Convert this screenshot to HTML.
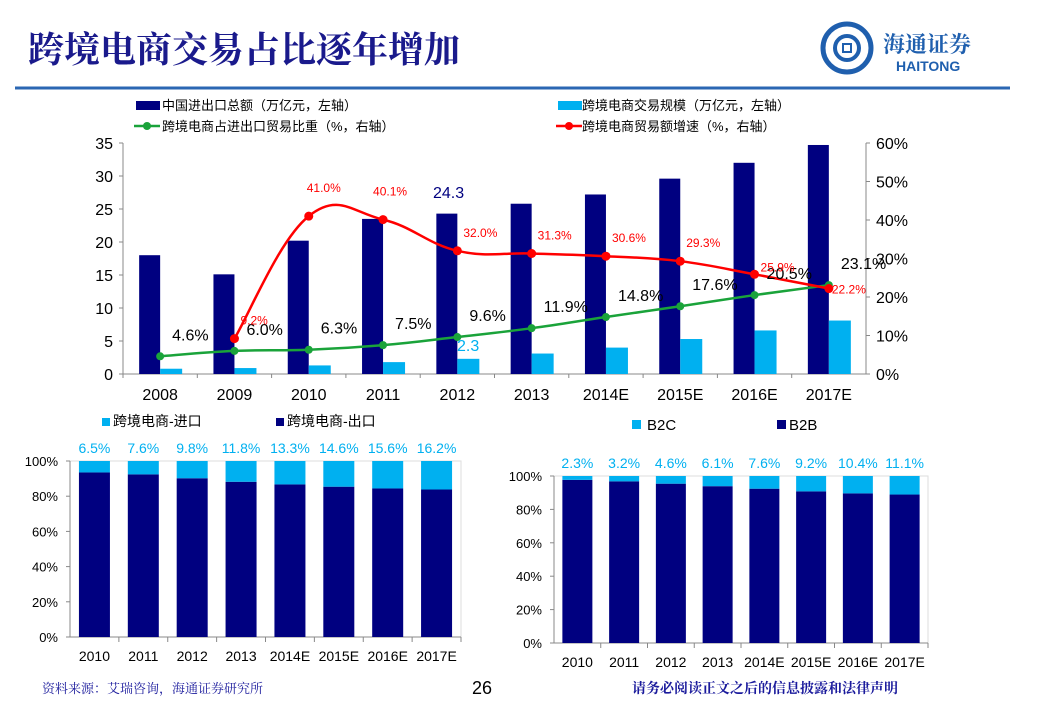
<!DOCTYPE html>
<html><head><meta charset="utf-8">
<style>
html,body{margin:0;padding:0;background:#fff;width:1040px;height:720px;overflow:hidden;font-family:"Liberation Sans","Noto Sans CJK SC",sans-serif}
svg{position:absolute;left:0;top:0}
</style></head>
<body>
<svg id="s" width="1040" height="720">
<text x="28" y="62" font-family="'Liberation Serif','Noto Serif CJK SC',serif" font-size="36" font-weight="bold" fill="#1a1a8c">跨境电商交易占比逐年增加</text>
<line x1="15" y1="88" x2="1010" y2="88" stroke="#2b67b3" stroke-width="3"/>
<g>
<circle cx="847" cy="48" r="24" fill="none" stroke="#1f5fae" stroke-width="5"/>
<circle cx="847" cy="48" r="12" fill="none" stroke="#1f5fae" stroke-width="4"/>
<rect x="843" y="44" width="8" height="8" fill="#fff" stroke="#1f5fae" stroke-width="2"/>
<text x="883" y="52" font-family="'Noto Serif CJK SC',serif" font-size="22" font-weight="bold" fill="#1f5fae">海通证券</text>
<text x="896" y="71" font-size="14" font-weight="bold" fill="#1f5fae">HAITONG</text>
</g>
<text x="42" y="693" font-family="'Noto Serif CJK SC',serif" font-size="13" fill="#1a1a9c">资料来源：艾瑞咨询，海通证券研究所</text>
<text x="472" y="694" font-size="18" fill="#000">26</text>
<text x="632" y="693" font-family="'Noto Serif CJK SC',serif" font-size="14" font-weight="bold" fill="#1a1a9c">请务必阅读正文之后的信息披露和法律声明</text>
</svg>
<script>
const years=["2008","2009","2010","2011","2012","2013","2014E","2015E","2016E","2017E"];
const totalTrade=[18,15.1,20.2,23.5,24.3,25.8,27.2,29.6,32,34.7];
const ecomScale=[0.8,0.9,1.3,1.8,2.3,3.1,4.0,5.3,6.6,8.1];
const sharePct=[4.6,6.0,6.3,7.5,9.6,11.9,14.8,17.6,20.5,23.1];
const growthPct=[null,9.2,41.0,40.1,32.0,31.3,30.6,29.3,25.9,22.2];
const leftTicks=[0,5,10,15,20,25,30,35];
const rightTicks=[0,10,20,30,40,50,60];
const botYears=["2010","2011","2012","2013","2014E","2015E","2016E","2017E"];
const importShare=[6.5,7.6,9.8,11.8,13.3,14.6,15.6,16.2];
const b2cShare=[2.3,3.2,4.6,6.1,7.6,9.2,10.4,11.1];
const pctTicks=[0,20,40,60,80,100];

const NS="http://www.w3.org/2000/svg";
const svg=document.getElementById('s');
function el(t,a,p){const e=document.createElementNS(NS,t);for(const k in a)e.setAttribute(k,a[k]);(p||svg).appendChild(e);return e;}
function txt(x,y,s,a,p){const e=el('text',Object.assign({x:x,y:y},a),p);e.textContent=s;return e;}
const NAVY="#000080",CYAN="#00b0f0";

const g=el('g',{});


const X0=123,X1=866,Y0=374,Y1=143;
const bw=(X1-X0)/years.length;
const yL=v=>Y0-v/35*(Y0-Y1);
const yR=v=>Y0-v/60*(Y0-Y1);
const xc=i=>X0+bw*(i+0.5);
el('line',{x1:X0,y1:Y1,x2:X0,y2:Y0,stroke:'#888'},g);
el('line',{x1:X1,y1:Y1,x2:X1,y2:Y0,stroke:'#888'},g);
el('line',{x1:X0,y1:Y0,x2:X1,y2:Y0,stroke:'#888'},g);
leftTicks.forEach(v=>{el('line',{x1:X0-4,y1:yL(v),x2:X0,y2:yL(v),stroke:'#888'},g);const t=txt(X0-10,yL(v)+6,String(v),{'text-anchor':'end','font-size':16,fill:'#000'},g);});
rightTicks.forEach(v=>{el('line',{x1:X1,y1:yR(v),x2:X1+4,y2:yR(v),stroke:'#888'},g);const t=txt(X1+10,yR(v)+6,v+'%',{'font-size':16,fill:'#000'},g);});
years.forEach((y,i)=>{
 el('line',{x1:X0+bw*i,y1:Y0,x2:X0+bw*i,y2:Y0+4,stroke:'#888'},g);
 const t=txt(xc(i),Y0+26,y,{'text-anchor':'middle','font-size':16,fill:'#000'},g);
 
 const b=el('rect',{x:xc(i)-21,y:yL(totalTrade[i]),width:21,height:Y0-yL(totalTrade[i]),fill:NAVY},g);
 
 const c=el('rect',{x:xc(i),y:yL(ecomScale[i]),width:22,height:Y0-yL(ecomScale[i]),fill:CYAN},g);
 
});
function smooth(pts){let d='M'+pts[0][0]+','+pts[0][1];for(let i=0;i<pts.length-1;i++){const p0=pts[i-1]||pts[i],p1=pts[i],p2=pts[i+1],p3=pts[i+2]||p2;const t=0.2;d+=' C'+(p1[0]+(p2[0]-p0[0])*t)+','+(p1[1]+(p2[1]-p0[1])*t)+' '+(p2[0]-(p3[0]-p1[0])*t)+','+(p2[1]-(p3[1]-p1[1])*t)+' '+p2[0]+','+p2[1];}return d;}
const gp=sharePct.map((v,i)=>[xc(i),yR(v)]);
const gl=el('path',{d:smooth(gp),fill:'none',stroke:'#1aa33a','stroke-width':2.5},g);

const rp=[];growthPct.forEach((v,i)=>{if(v!=null)rp.push([xc(i),yR(v)]);});
const rl=el('path',{d:smooth(rp),fill:'none',stroke:'#ff0000','stroke-width':2.5},g);

sharePct.forEach((v,i)=>{const c=el('circle',{cx:xc(i),cy:yR(v),r:4,fill:'#1aa33a'},g);
 const t=txt(xc(i)+12,yR(v)-16,v.toFixed(1)+'%',{'font-size':16,fill:'#000'},g);});
growthPct.forEach((v,i)=>{if(v==null)return;const c=el('circle',{cx:xc(i),cy:yR(v),r:4.5,fill:'#ff0000'},g);
 const t=txt(xc(i)+(i==2?-2:i==3?-10:i==9?3:6),yR(v)+(i==2||i==3?-24:i==9?5:i==8?-3:-14),v.toFixed(1)+'%',{'font-size':12,fill:'#ff0000'},g);});
const l1=txt(433,198,'24.3',{'font-size':16,fill:NAVY},g);
const l2=txt(457,351,'2.3',{'font-size':16,fill:CYAN},g);
const lg=el('g',{});
const ls={'font-size':13,fill:'#000'};
el('rect',{x:136,y:101,width:24,height:9,fill:NAVY},lg);txt(162,110,'中国进出口总额（万亿元，左轴）',ls,lg);
el('rect',{x:558,y:101,width:24,height:9,fill:CYAN},lg);txt(582,110,'跨境电商交易规模（万亿元，左轴）',ls,lg);
el('line',{x1:134,y1:126,x2:160,y2:126,stroke:'#1aa33a','stroke-width':2.5},lg);el('circle',{cx:147,cy:126,r:4,fill:'#1aa33a'},lg);txt(162,131,'跨境电商占进出口贸易比重（%，右轴）',ls,lg);
el('line',{x1:556,y1:126,x2:582,y2:126,stroke:'#ff0000','stroke-width':2.5},lg);el('circle',{cx:569,cy:126,r:4,fill:'#ff0000'},lg);txt(582,131,'跨境电商贸易额增速（%，右轴）',ls,lg);

function stacked(name,cfg,top,labels){
 const p=el('g',{});
 const {x0,x1,y0,y1,barW}=cfg;const cw=(x1-x0)/labels.length;const yy=v=>y0-v/100*(y0-y1);
 el('rect',{x:x0,y:y1,width:x1-x0,height:y0-y1,fill:'none',stroke:'#ddd'},p);
 el('line',{x1:x0,y1:y1,x2:x0,y2:y0,stroke:'#888'},p);el('line',{x1:x0,y1:y0,x2:x1,y2:y0,stroke:'#888'},p);
 pctTicks.forEach(v=>{el('line',{x1:x0-4,y1:yy(v),x2:x0,y2:yy(v),stroke:'#888'},p);const t=txt(x0-12,yy(v)+5,v+'%',{'text-anchor':'end','font-size':13,fill:'#000'},p);});
 labels.forEach((lab,i)=>{const cx=x0+cw*(i+0.5);el('line',{x1:x0+cw*(i+1),y1:y0,x2:x0+cw*(i+1),y2:y0+5,stroke:'#888'},p);
  const t=txt(cx,y0+24,lab,{'text-anchor':'middle','font-size':14,fill:'#000'},p);
  const v=top[i];
  const b=el('rect',{x:cx-barW/2,y:yy(100-v),width:barW,height:y0-yy(100-v),fill:NAVY},p);
  const c=el('rect',{x:cx-barW/2,y:yy(100),width:barW,height:yy(100-v)-yy(100),fill:CYAN},p);
  const l=txt(cx,yy(100)-8,v.toFixed(1)+'%',{'text-anchor':'middle','font-size':14,fill:CYAN},p);});
 return p;
}
stacked('import-export-chart',{x0:70,x1:461,y0:637,y1:461,barW:31},importShare,botYears);
stacked('b2c-b2b-chart',{x0:554,x1:928,y0:643,y1:476,barW:30},b2cShare,botYears);
const bl=el('g',{});
el('rect',{x:102,y:418,width:8,height:8,fill:CYAN},bl);txt(113,426,'跨境电商-进口',{'font-size':14,fill:'#000'},bl);
el('rect',{x:276,y:418,width:8,height:8,fill:NAVY},bl);txt(287,426,'跨境电商-出口',{'font-size':14,fill:'#000'},bl);
el('rect',{x:632,y:420,width:9,height:9,fill:CYAN},bl);txt(647,430,'B2C',{'font-size':15,fill:'#000'},bl);
el('rect',{x:777,y:420,width:9,height:9,fill:NAVY},bl);txt(789,430,'B2B',{'font-size':15,fill:'#000'},bl);
</script>
</body></html>
